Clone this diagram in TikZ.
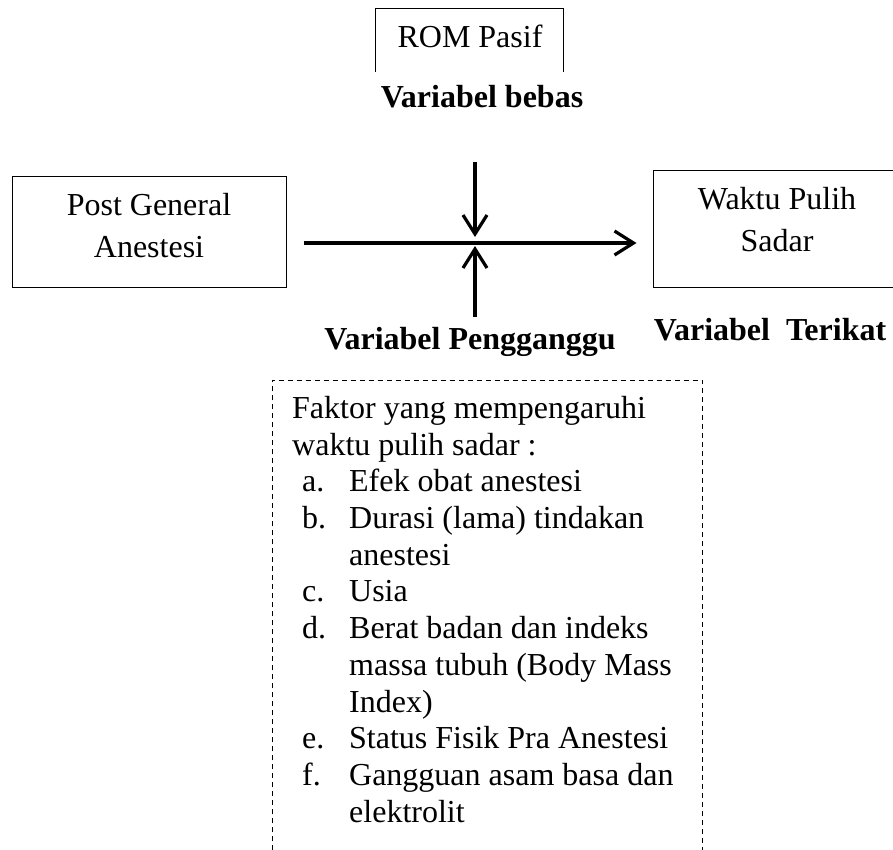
\documentclass[tikz,border=0pt]{standalone}
\usepackage{fontspec}
\setmainfont{Liberation Serif}
\usetikzlibrary{arrows.meta}

\newcommand{\listlbl}[1]{\hspace*{10pt}\makebox[47pt][l]{#1}}
\newcommand{\listcont}{\hspace*{57pt}}

\begin{document}
\begin{tikzpicture}[x=1pt, y=-1pt,
    txt/.style={font=\fontsize{32}{36.7}\selectfont, inner sep=0pt},
    bold/.style={font=\fontsize{32}{36.7}\selectfont\bfseries, inner sep=0pt, anchor=base},
    boxtxt/.style={font=\fontsize{32}{42}\selectfont, align=center, inner sep=0pt},
    frame/.style={draw, line width=1pt, inner sep=0pt},
    open/.style={inner sep=0pt},
    flow/.style={line width=3.2pt, -{Straight Barb[length=19pt, width=24pt]}}]
\path[use as bounding box, clip] (0,0) rectangle (893,850);

% ROM Pasif (open at the bottom)
\node[open, minimum width=187pt, minimum height=63pt] (rom) at (469.5,40.5) {};
\draw[line width=1pt] (rom.south west) -- (rom.north west) -- (rom.north east) -- (rom.south east);
\node[txt, anchor=base] (romtxt) at (470,48) {ROM Pasif};
\node[bold] (bebas) at (482,108) {Variabel bebas};

% Post General Anestesi
\node[frame, minimum width=274pt, minimum height=110pt] (post) at (149,232) {};
\node[boxtxt] (posttxt) at (149,226) {Post General\\Anestesi};

% Waktu Pulih Sadar
\node[frame, minimum width=248pt, minimum height=116pt] (waktu) at (777,229) {};
\node[boxtxt] (waktutxt) at (777,220) {Waktu Pulih\\Sadar};
\node[bold] (terikat) at (770,340) {Variabel\ \ Terikat};

% Arrows meeting in the middle
\coordinate (cross) at (475,243);
\coordinate (topend) at (475,162);
\coordinate (botend) at (475,317);
\draw[flow] ([xshift=17pt]post.east |- cross) -- ([xshift=-16pt]waktu.west |- cross);
\draw[flow] (topend) -- ([yshift=6pt]cross);
\draw[flow] (botend) -- ([yshift=-3pt]cross);

\node[bold] (pengganggu) at (470,349) {Variabel Pengganggu};

% Faktor box, dashed and open at the bottom
\node[open, minimum width=430pt, minimum height=470pt, anchor=north west] (faktor) at (272,380) {};
\draw[line width=1pt, dash pattern=on 5pt off 4pt] (faktor.south west) -- (faktor.north west)
    -- (faktor.north east) -- (faktor.south east);
\node[txt, align=left, anchor=north west] (list) at (292,396) {Faktor yang mempengaruhi\\
    waktu pulih sadar :\\
    \listlbl{a.}Efek obat anestesi\\
    \listlbl{b.}Durasi (lama) tindakan\\
    \listcont anestesi\\
    \listlbl{c.}Usia\\
    \listlbl{d.}Berat badan dan indeks\\
    \listcont massa tubuh (Body Mass\\
    \listcont Index)\\
    \listlbl{e.}Status Fisik Pra Anestesi\\
    \listlbl{f.}Gangguan asam basa dan\\
    \listcont elektrolit};
\end{tikzpicture}
\end{document}
